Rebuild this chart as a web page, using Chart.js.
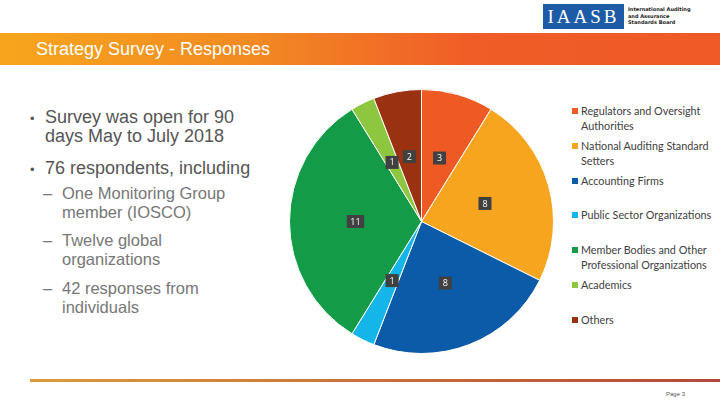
<!DOCTYPE html>
<html>
<head>
<meta charset="utf-8">
<script src="https://cdn.jsdelivr.net/npm/chart.js@4.4.0/dist/chart.umd.min.js"></script>
<style>
    body { margin: 0; background: #fff; }
    #slide { position: relative; width: 720px; height: 405px; overflow: hidden; background: #fff; font-family: "Liberation Sans", Arial, sans-serif; }
    #logo { position: absolute; left: 543px; top: 4px; width: 81px; height: 25px; background: #1d5ba6; color: #fff;
            font-family: "Liberation Serif", serif; font-size: 19px; letter-spacing: 3px; text-align: center; line-height: 26px; }
    #logoText { position: absolute; left: 628px; top: 6px; font-size: 5px; line-height: 6.5px; font-weight: bold; color: #222; font-family: "DejaVu Sans", sans-serif; }
    #titleBar { position: absolute; left: 0; top: 33px; width: 720px; height: 32px;
                background: linear-gradient(to right, #f8a61c 0%, #f28a22 35%, #f05d27 65%, #ef5a27 100%); }
    #titleBar span { position: absolute; left: 36px; top: 6px; color: #fff; font-size: 18px; }
    .b1 { position: absolute; left: 45px; font-size: 18px; color: #555; line-height: 19px; }
    .b2 { position: absolute; left: 62px; font-size: 16.5px; color: #777; line-height: 19px; }
    .b1 b, .b2 b { position: absolute; font-weight: normal; }
    .b1 b { left: -15px; top: 1px; font-size: 13px; line-height: 19px; }
    .b2 b { left: -19px; }
    #chartBox { position: absolute; left: 280px; top: 80px; width: 285px; height: 285px; }
    #legend { position: absolute; left: 572px; top: 103px; width: 148px; font-family: Lato, sans-serif; font-size: 10.8px; color: #404040; }
    .item { position: relative; height: 34.8px; line-height: 15px; padding-left: 9px; }
    .item i { position: absolute; left: 0; top: 5px; width: 6px; height: 6px; }
    #bottomLine { position: absolute; left: 30px; top: 379px; width: 690px; height: 3px;
                  background: linear-gradient(to right, #db9c3c, #c8713a 50%, #b5473a); }
    #page { position: absolute; left: 666px; top: 391px; font-size: 6px; color: #555; }
</style>
</head>
<body>
<div id="slide">
    <div id="logo">IAASB</div>
    <div id="logoText">International Auditing<br>and Assurance<br>Standards Board</div>
    <div id="titleBar"><span>Strategy Survey - Responses</span></div>

    <div class="b1" style="top:108px"><b>•</b>Survey was open for 90<br>days May to July 2018</div>
    <div class="b1" style="top:159px"><b>•</b>76 respondents, including</div>
    <div class="b2" style="top:184px"><b>–</b>One Monitoring Group<br>member (IOSCO)</div>
    <div class="b2" style="top:231px"><b>–</b>Twelve global<br>organizations</div>
    <div class="b2" style="top:279px"><b>–</b>42 responses from<br>individuals</div>

    <div id="chartBox"><canvas id="pie"></canvas></div>
    <div id="legend"></div>

    <div id="bottomLine"></div>
    <div id="page">Page 3</div>
</div>

<script>
// survey responses by group
var categories = ["Regulators and Oversight Authorities", "National Auditing Standard Setters", "Accounting Firms",
    "Public Sector Organizations", "Member Bodies and Other Professional Organizations", "Academics", "Others"];
var responses = [3, 8, 8, 1, 11, 1, 2];
var colors = ["#ef5a24", "#f7a51e", "#0b5ba8", "#14b6ea", "#139b47", "#8dc63f", "#9a3212"];

// dark boxes with the value at the middle of each slice
var valueBoxes = {
    id: "valueBoxes",
    afterDatasetsDraw: function(chart) {
        var ctx = chart.ctx;
        var meta = chart.getDatasetMeta(0);
        ctx.save();
        ctx.font = "9px 'Open Sans', sans-serif";
        ctx.textAlign = "center";
        ctx.textBaseline = "middle";
        meta.data.forEach(function(arc, i) {
            var p = arc.tooltipPosition();
            var txt = String(responses[i]);
            var w = Math.max(ctx.measureText(txt).width + 7, 13);
            ctx.fillStyle = "#404040";
            ctx.fillRect(p.x - w / 2, p.y - 6.5, w, 13);
            ctx.fillStyle = "#fff";
            ctx.fillText(txt, p.x, p.y + 0.5);
        });
        ctx.restore();
    }
};

new Chart(document.getElementById("pie"), {
    type: "pie",
    data: {
        labels: categories,
        datasets: [{
            data: responses,
            backgroundColor: colors,
            borderColor: "#fff",
            borderWidth: 1
        }]
    },
    options: {
        responsive: true,
        maintainAspectRatio: false,
        animation: false,
        layout: { padding: { left: 9, top: 9, right: 11, bottom: 11 } },
        plugins: {
            legend: { display: false },
            tooltip: { enabled: false }
        }
    },
    plugins: [valueBoxes]
});

// legend on the right, one fixed slot per category
var legend = document.getElementById("legend");
categories.forEach(function(name, i) {
    var d = document.createElement("div");
    d.className = "item";
    d.innerHTML = '<i style="background:' + colors[i] + '"></i>' + name;
    legend.appendChild(d);
});
</script>
</body>
</html>
